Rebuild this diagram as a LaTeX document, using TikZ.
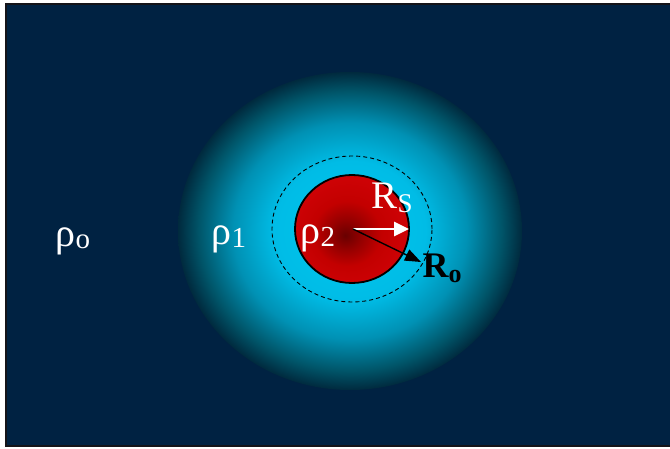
\documentclass[tikz,border=0pt]{standalone}
\usepackage{fontspec}
\setmainfont{Liberation Serif}
\usetikzlibrary{arrows.meta}
\definecolor{navy}{RGB}{0,34,66}
\definecolor{frameC}{RGB}{20,20,25}
\definecolor{glowA}{RGB}{0,200,238}
\definecolor{glowB}{RGB}{0,188,230}
\definecolor{glowC}{RGB}{0,145,180}
\definecolor{glowD}{RGB}{0,85,105}
\definecolor{glowE}{RGB}{0,42,62}
\definecolor{redA}{RGB}{105,0,0}
\definecolor{redB}{RGB}{150,0,0}
\definecolor{redC}{RGB}{195,0,0}
\definecolor{redD}{RGB}{205,2,5}
\pgfdeclareradialshading{glowshade}{\pgfpoint{0bp}{0bp}}{color(0bp)=(glowA); color(11bp)=(glowB); color(17bp)=(glowC); color(22bp)=(glowD); color(25bp)=(glowE); color(50bp)=(glowE)}
\pgfdeclareradialshading{redshade}{\pgfpoint{-3bp}{-3bp}}{color(0bp)=(redA); color(7bp)=(redB); color(15bp)=(redC); color(25bp)=(redD); color(50bp)=(redD)}
\newcommand{\mybig}{\fontsize{40}{40}\selectfont}
\newcommand{\mysub}{\fontsize{29}{29}\selectfont}
\tikzset{
  lbl/.style={inner sep=0pt, text=white, anchor=center},
  blbl/.style={inner sep=0pt, text=black, anchor=center, font=\bfseries},
}
\begin{document}
\begin{tikzpicture}[x=1pt,y=1pt]
\useasboundingbox (0,0) rectangle (670,448);
\fill[white] (0,0) rectangle (670,448);
\fill[navy] (6,2) rectangle (670,444);
\draw[frameC, line width=1.6pt] (670,444) -- (6,444) -- (6,2) -- (670,2);
% glow
\shade[shading=glowshade] (350,217) ellipse [x radius=172, y radius=159];
% dashed circle
\draw[black, dashed, dash pattern=on 4pt off 3pt, line width=0.9pt] (352,219) ellipse [x radius=80, y radius=73];
% red core
\shade[shading=redshade, draw=black, line width=1.8pt] (352,219) ellipse [x radius=57, y radius=54];
% centre and arrow ends
\coordinate (c) at (353,219);
\coordinate (rs) at (409,219);
\coordinate (ro) at (421,186);
\draw[white, line width=2.6pt, -{Triangle[length=15pt, width=14pt]}] (c) -- (rs);
\draw[black, line width=1.4pt, -{Triangle[length=16pt, width=12pt]}] (c) -- (ro);
% labels
\node[lbl] (r0) at (73,207) {\mybig ρ\raisebox{-2pt}{\mysub o}};
\node[lbl] (r1) at (229,209) {\mybig ρ\raisebox{-3pt}{\mysub 1}};
\node[lbl] (r2) at (318,210) {\mybig ρ\raisebox{-3pt}{\mysub 2}};
\node[lbl] (RS) at (392,250) {\fontsize{39}{39}\selectfont R\raisebox{-4pt}{\fontsize{27}{27}\selectfont S}};
\node[blbl] (RO) at (442,180) {\fontsize{36}{36}\selectfont R\raisebox{-5pt}{\fontsize{26}{26}\selectfont o}};
\end{tikzpicture}
\end{document}
